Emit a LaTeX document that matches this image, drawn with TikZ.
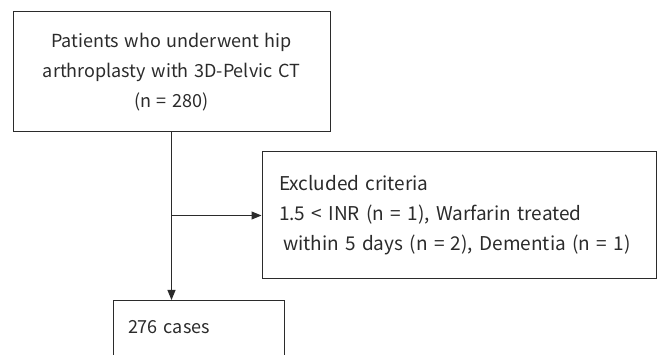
\documentclass[tikz,border=0pt]{standalone}
\usepackage{fontspec}
\setmainfont[WordSpace=1.4]{Noto Sans CJK KR}
\usetikzlibrary{arrows.meta}
\definecolor{ink}{HTML}{2B2B2B}
\tikzset{
  box/.style={draw=ink, line width=1pt, text=ink, align=center, inner sep=0pt,
    font=\fontsize{18pt}{30pt}\selectfont},
  conn/.style={draw=ink, line width=1pt, -{Triangle[length=10pt,width=8pt]}},
}
\begin{document}
\begin{tikzpicture}[x=1pt,y=1pt]
\useasboundingbox (0,0) rectangle (657,354);
\node[box, minimum width=317pt, minimum height=120pt] (top) at (171.5,282)
  {Patients who underwent hip\\arthroplasty with 3D-Pelvic CT\\(n = 280)};
\node[box, align=left, text width=360pt, minimum width=394pt, minimum height=127pt,
  font=\fontsize{19pt}{30pt}\selectfont] (excl) at (459,138.5)
  {Excluded criteria\\1.5 < INR (n = 1), Warfarin treated\\\hspace*{4pt}within 5 days (n = 2), Dementia (n = 1)};
\node[box, align=left, text width=171pt, anchor=north, minimum height=70pt, text height=23pt, text depth=27pt] (res) at (198.5,54)
  {\hspace*{15pt}276 cases};
\coordinate (split) at (top.south |- excl.west);
\draw[conn] (top.south) -- (top.south |- res.north);
\draw[conn] (split) -- (excl.west);
\end{tikzpicture}
\end{document}
